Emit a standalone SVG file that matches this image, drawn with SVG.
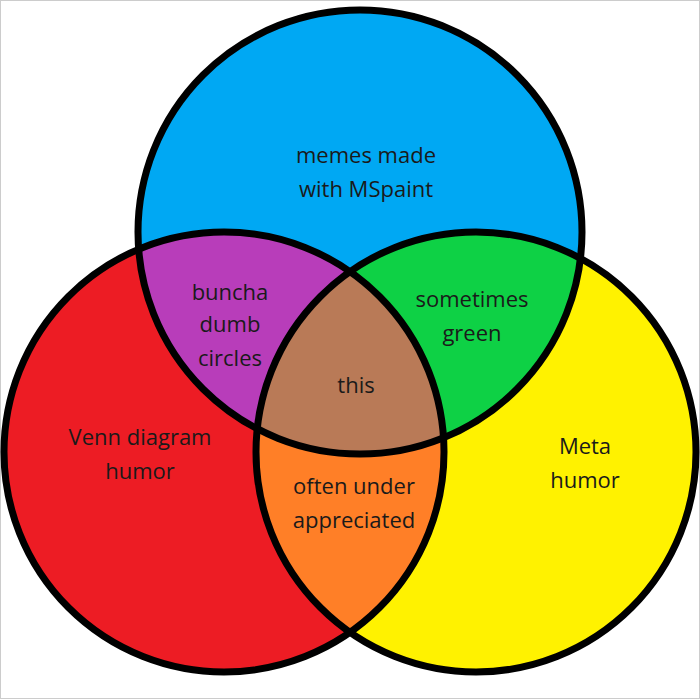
<svg xmlns="http://www.w3.org/2000/svg" width="700" height="699" viewBox="0 0 700 699">
<style>
text{font-family:"Open Sans","Noto Sans",sans-serif;font-size:22px;fill:#1a1a1a;text-anchor:middle}
.o{fill:none;stroke:#000;stroke-width:7}
</style>
<defs>
<clipPath id="cB"><circle cx="360" cy="232" r="222"/></clipPath>
<clipPath id="cR"><circle cx="224" cy="452" r="220"/></clipPath>
<clipPath id="cY"><circle cx="476" cy="452" r="220"/></clipPath>
</defs>
<rect x="0.5" y="0.5" width="699" height="698" fill="#fff" stroke="#ccc"/>
<g id="blue"><circle cx="360" cy="232" r="222" fill="#00a8f3"/></g>
<g id="red"><circle cx="224" cy="452" r="220" fill="#ed1c24"/></g>
<g id="yellow"><circle cx="476" cy="452" r="220" fill="#fff200"/></g>
<g id="purple" clip-path="url(#cB)"><circle cx="224" cy="452" r="220" fill="#b83dba"/></g>
<g id="green" clip-path="url(#cB)"><circle cx="476" cy="452" r="220" fill="#0ed145"/></g>
<g id="orange" clip-path="url(#cR)"><circle cx="476" cy="452" r="220" fill="#ff7f27"/></g>
<g id="brown" clip-path="url(#cB)"><g clip-path="url(#cR)"><circle cx="476" cy="452" r="220" fill="#b97a57"/></g></g>
<g id="outlines">
<circle class="o" cx="360" cy="232" r="222"/>
<circle class="o" cx="224" cy="452" r="220"/>
<circle class="o" cx="476" cy="452" r="220"/>
</g>
<g id="labels">
<text x="366" y="163">memes made</text><text x="366" y="197">with MSpaint</text>
<text x="230" y="300">buncha</text><text x="230" y="332">dumb</text><text x="230" y="366">circles</text>
<text x="472" y="307">sometimes</text><text x="472" y="341">green</text>
<text x="356" y="393">this</text>
<text x="140" y="445">Venn diagram</text><text x="140" y="479">humor</text>
<text x="585" y="454">Meta</text><text x="585" y="488">humor</text>
<text x="354" y="494">often under</text><text x="354" y="528">appreciated</text>
</g>
</svg>
